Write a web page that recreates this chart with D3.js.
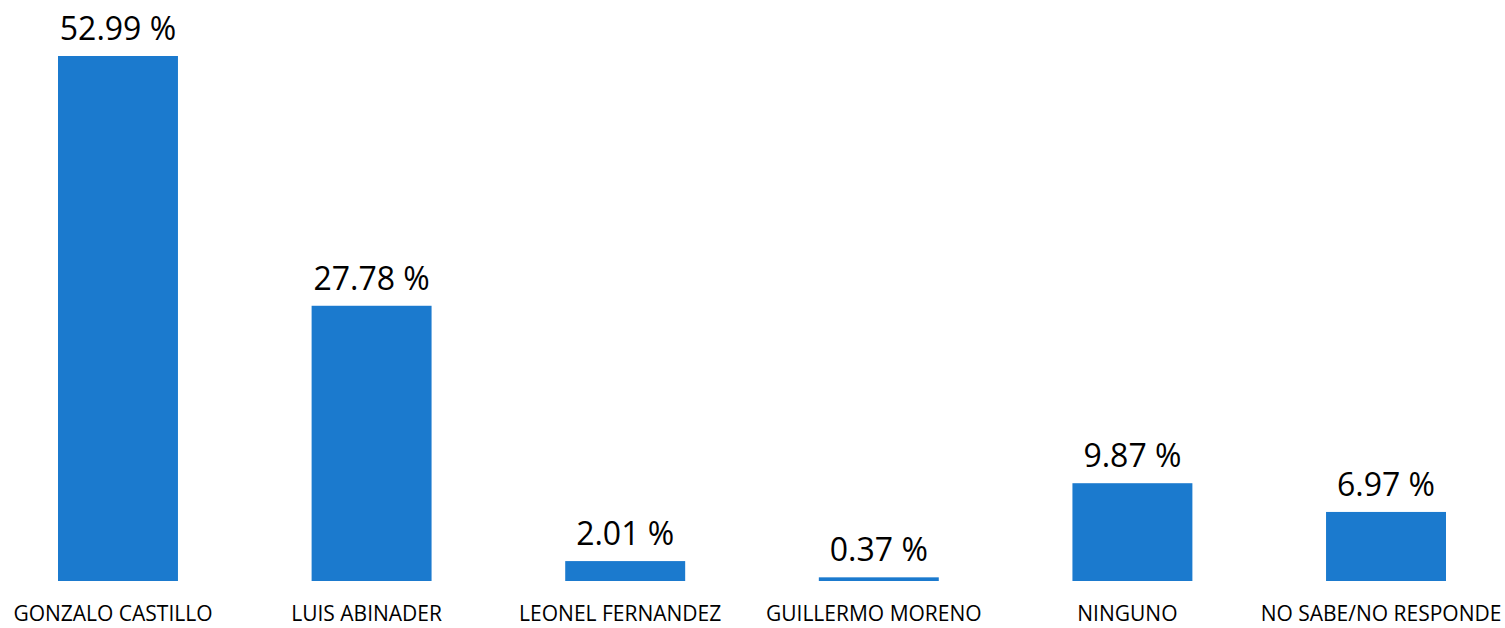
<!DOCTYPE html>
<html>
<head>
<meta charset="utf-8">
<script src="https://cdn.jsdelivr.net/npm/d3@7"></script>
<style>
  body { margin: 0; background: #fff; }
  text { font-family: "Open Sans", sans-serif; fill: #000; }
</style>
</head>
<body>
<svg id="chart"></svg>
<script>
var categories = ["GONZALO CASTILLO", "LUIS ABINADER", "LEONEL FERNANDEZ", "GUILLERMO MORENO", "NINGUNO", "NO SABE/NO RESPONDE"];
var values = [52.99, 27.78, 2.01, 0.37, 9.87, 6.97];

var width = 1505,
  height = 628;

var svg = d3.select("#chart")
  .attr("width", width)
  .attr("height", height);

var data = categories.map(function(c, i) {
  return { name: c, value: values[i] };
});

var xScale = d3.scaleBand()
  .domain(categories)
  .range([58, 1446])
  .paddingInner(0.527)
  .paddingOuter(0);

var yScale = d3.scaleLinear()
  .domain([0, 52.99])
  .range([581, 56]);

svg.selectAll(".bar")
  .data(data)
  .enter().append("rect")
  .attr("class", "bar")
  .attr("x", function(d) { return xScale(d.name); })
  .attr("y", function(d) { return yScale(d.value); })
  .attr("width", xScale.bandwidth())
  .attr("height", function(d) { return yScale(0) - yScale(d.value); })
  .style("fill", "#1b7ace");

svg.selectAll(".value")
  .data(data)
  .enter().append("text")
  .attr("class", "value")
  .attr("x", function(d) { return xScale(d.name) + xScale.bandwidth() / 2; })
  .attr("y", function(d) { return yScale(d.value) - 16; })
  .style("font-size", "32px")
  .style("text-anchor", "middle")
  .text(function(d) { return d3.format(".2f")(d.value) + " %"; });

svg.selectAll(".label")
  .data(data)
  .enter().append("text")
  .attr("class", "label")
  .attr("x", function(d) { return xScale(d.name) + xScale.bandwidth() / 2 - 5; })
  .attr("y", 621)
  .style("font-size", "21px")
  .style("text-anchor", "middle")
  .text(function(d) { return d.name; });
</script>
</body>
</html>
